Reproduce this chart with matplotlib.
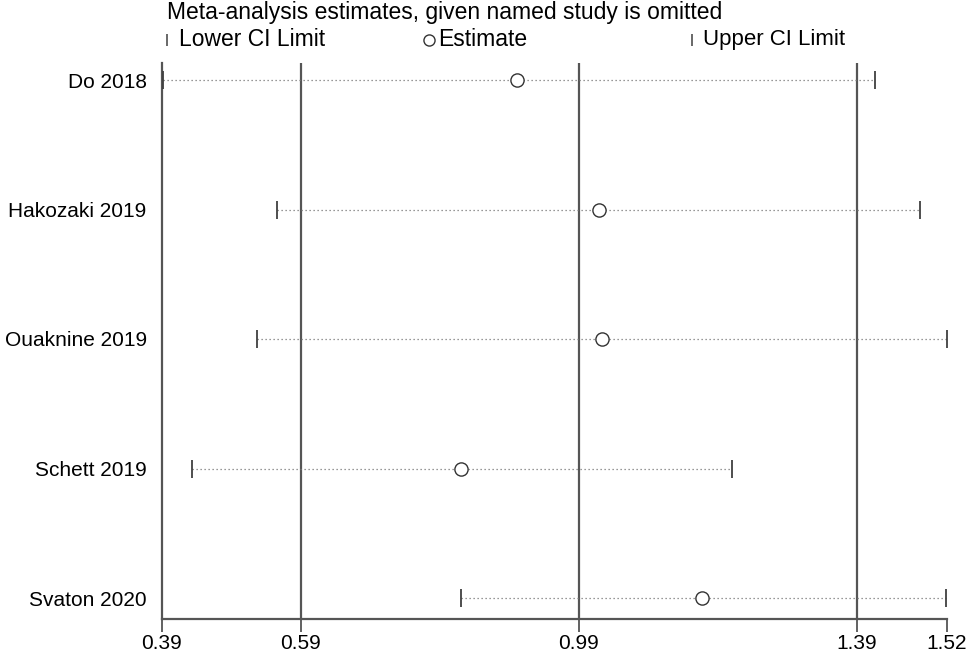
import numpy as np
import matplotlib.pyplot as plt
from matplotlib.lines import Line2D

plt.rcParams['font.family'] = ['Liberation Sans', 'DejaVu Sans']

studies = ['Do 2018', 'Hakozaki 2019', 'Ouaknine 2019', 'Schett 2019', 'Svaton 2020']
lower = [0.391, 0.555, 0.527, 0.433, 0.820]
estimate = [0.901, 1.019, 1.024, 0.821, 1.168]
upper = [1.416, 1.481, 1.520, 1.211, 1.519]
xticks = [0.39, 0.59, 0.99, 1.39, 1.52]
reflines = [0.59, 0.99, 1.39]

fig = plt.figure(figsize=(9.76, 6.52), dpi=100)
ax = fig.add_axes([162/976, 1-619/652, (947-162)/976, (619-63)/652])

ypos = np.arange(len(studies))[::-1] + 1
dark = '#404040'

for xv in reflines:
    ax.axvline(xv, color='#555555', lw=1.6, zorder=1)

for y, lo, est, up in zip(ypos, lower, estimate, upper):
    ax.plot([lo, up], [y, y], color='#777777', lw=0.9, linestyle=(0, (1, 2.2)), zorder=2)
ax.plot(lower, ypos, linestyle='none', marker='|', markersize=13, mew=1.3, color=dark, zorder=3, clip_on=False)
ax.plot(upper, ypos, linestyle='none', marker='|', markersize=13, mew=1.3, color=dark, zorder=3, clip_on=False)
ax.plot(estimate, ypos, linestyle='none', marker='o', markersize=9.5, mfc='white', mec='#333333', mew=1.0, zorder=4)

ax.set_xlim(0.39, 1.52)
ax.set_ylim(1 - 21/129.5, 5 + 17/129.5)
ax.set_xticks(xticks)
ax.set_xticklabels(['%.2f' % v for v in xticks], fontsize=15)
ax.set_yticks(ypos)
ax.set_yticklabels(studies, fontsize=15)
ax.tick_params(axis='y', length=0, pad=11)
ax.tick_params(axis='x', length=9, width=1.3, color='#555555', pad=2)
for s in ['top', 'right']:
    ax.spines[s].set_visible(False)
for s in ['left', 'bottom']:
    ax.spines[s].set_color('#555555')
    ax.spines[s].set_linewidth(1.6)

fig.text(167/976, 1-12/652, 'Meta-analysis estimates, given named study is omitted',
         fontsize=16.5, va='center', ha='left')
ly = 1 - 40/652
fig.add_artist(Line2D([167/976], [ly], marker='|', markersize=9, mew=1.1, color=dark,
                      transform=fig.transFigure))
fig.text(179/976, ly, 'Lower CI Limit', fontsize=16.5, va='center', ha='left')
fig.add_artist(Line2D([429/976], [ly], marker='o', markersize=8, mfc='white', mec='#333333',
                      mew=1.0, transform=fig.transFigure))
fig.text(438/976, ly, 'Estimate', fontsize=16.5, va='center', ha='left')
fig.add_artist(Line2D([692/976], [ly], marker='|', markersize=9, mew=1.1, color=dark,
                      transform=fig.transFigure))
fig.text(703/976, ly, 'Upper CI Limit', fontsize=16, va='center', ha='left')

fig.savefig('out.png', dpi=100)
